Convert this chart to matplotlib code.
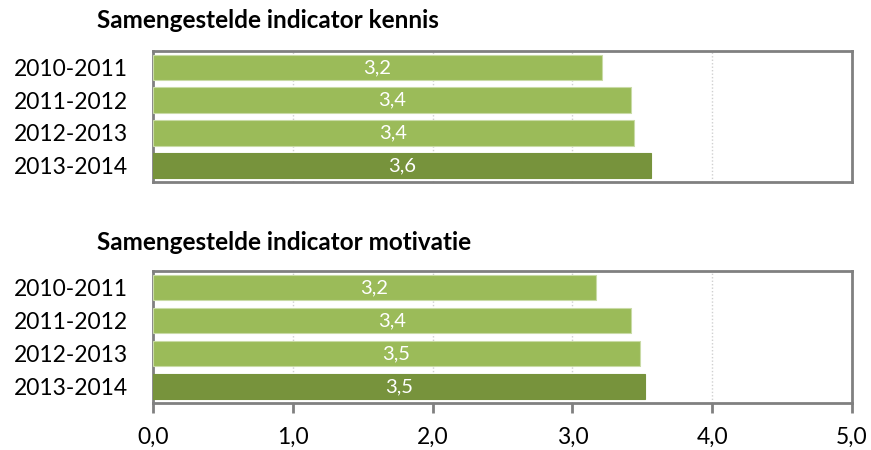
import matplotlib.pyplot as plt

# Data
years = ['2010-2011', '2011-2012', '2012-2013', '2013-2014']
kennis = [3.21, 3.42, 3.44, 3.56]
motivatie = [3.17, 3.42, 3.48, 3.52]
titles = ['Samengestelde indicator kennis', 'Samengestelde indicator motivatie']
xticks = [0, 1, 2, 3, 4, 5]

light = '#9BBB59'
dark = '#77933C'
colors = [light, light, light, dark]

plt.rcParams['font.family'] = ['Lato', 'DejaVu Sans']

W, H = 871, 450
fig = plt.figure(figsize=(W / 100, H / 100), dpi=100)

# panel frames in pixels: (left, top, right, bottom)
boxes = [(153, 51, 852, 182), (153, 271, 852, 403)]
title_y = [20, 242]

for i, (vals, box) in enumerate(zip([kennis, motivatie], boxes)):
    l, t, r, b = box
    ax = fig.add_axes([l / W, 1 - b / H, (r - l) / W, (b - t) / H])
    y = range(len(years))
    ax.barh(y, vals, height=0.78, color=colors, edgecolor=['#C9DBA6'] * 3 + [dark], linewidth=0.8, zorder=3)
    for yi, v in zip(y, vals):
        ax.text(v / 2, yi, f'{v:.1f}'.replace('.', ','), color='white', ha='center', va='center', fontsize=14.5, zorder=4)
    ax.set_xlim(0, 5)
    ax.set_ylim(len(years) - 0.5, -0.5)
    ax.set_yticks(list(y))
    ax.set_yticklabels(years, fontsize=16.5)
    ax.tick_params(axis='y', length=0, pad=18)
    ax.set_xticks(xticks)
    ax.grid(axis='x', color='#D0D0D0', linestyle=(0, (1, 1.5)), linewidth=1, zorder=0)
    for s in ax.spines.values():
        s.set_color('#808080')
        s.set_linewidth(2)
    if i == 0:
        ax.tick_params(axis='x', length=0, labelbottom=False)
    else:
        ax.set_xticklabels([f'{x:.1f}'.replace('.', ',') for x in xticks], fontsize=16.5)
        ax.tick_params(axis='x', length=7, width=2, color='#808080', pad=10)
    fig.text(97 / W, 1 - title_y[i] / H, titles[i], fontsize=17.5, fontweight='bold', ha='left', va='center')

fig.savefig('out.png', dpi=100)
